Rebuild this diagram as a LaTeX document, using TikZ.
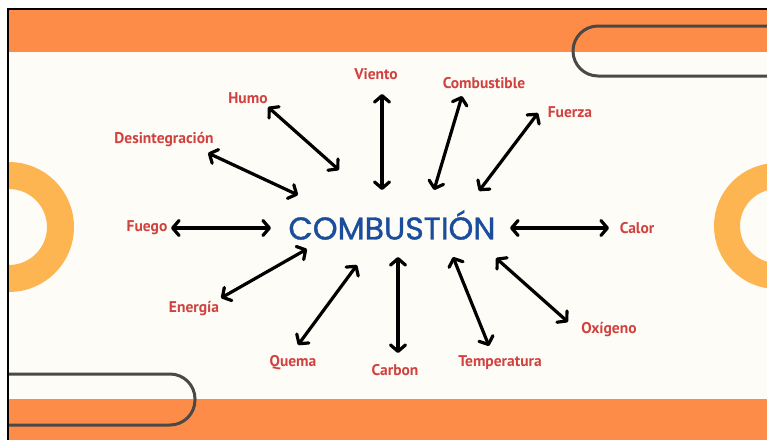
\documentclass[tikz,border=0pt]{standalone}
\usepackage{fontspec}
\setmainfont{PT Sans}
\newfontfamily\titlefont[FakeBold=1.2]{Poppins}
\usepackage{tikz}
\usetikzlibrary{positioning, arrows.meta}
\usepackage{xcolor}
\definecolor{band}{HTML}{FD8C48}
\definecolor{ring}{HTML}{FDB552}
\definecolor{paper}{HTML}{FDFCF6}
\definecolor{outline}{HTML}{4B4947}
\definecolor{termred}{HTML}{D0413F}
\definecolor{titleblue}{HTML}{1A4E9C}

\begin{document}
\begin{tikzpicture}[
  x=1pt, y=-1pt,
  term/.style={font=\bfseries\fontsize{15.5}{17}\selectfont, text=termred, inner sep=1pt},
  hubtext/.style={font=\titlefont\fontsize{31.5}{33}\selectfont, text=titleblue, inner sep=1pt},
  ar/.style={{Straight Barb[length=6.5pt,width=15pt,round]}-{Straight Barb[length=6.5pt,width=15pt,round]},
             line width=3.2pt, black},
  pill/.style={draw=outline, line width=3pt, rounded corners=25pt},
]
  \useasboundingbox (0,0) rectangle (767,440);
  \fill[white] (0,0) rectangle (767,440);
  \begin{scope}
    \clip (8,9) rectangle (767,440);
    \fill[paper] (8,9) rectangle (767,440);
    \fill[band] (8,9) rectangle (767,52);
    \fill[band] (8,399) rectangle (767,440);
    \draw[ring, line width=27pt] (9,227) circle (51.5pt);
    \draw[ring, line width=26pt] (777,226) circle (50pt);
    \draw[pill] (573,26) rectangle (830,76);
    \draw[pill] (-60,374) rectangle (195,425);
  \end{scope}
  \draw[line width=2pt] (8,440) -- (8,9) -- (767,9);

  \node[hubtext] (hub) at (392,225) {COMBUSTIÓN};

  \node[term] (viento) at (376,74) {Viento};
  \node[term] (humo) at (248,98) {Humo};
  \node[term] (combustible) at (484,83) {Combustible};
  \node[term] (fuerza) at (570,112) {Fuerza};
  \node[term] (desint) at (164,140) {Desintegración};
  \node[term] (fuego) at (147,228) {Fuego};
  \node[term] (calor) at (637,228) {Calor};
  \node[term] (energia) at (194,309) {Energía};
  \node[term] (quema) at (293,363) {Quema};
  \node[term] (carbon) at (395,370) {Carbon};
  \node[term] (temp) at (500,363) {Temperatura};
  \node[term] (oxigeno) at (609,330) {Oxígeno};

  \coordinate (viento-o) at (382,94);  \coordinate (viento-i) at (382,190);
  \coordinate (humo-o) at (268,107);   \coordinate (humo-i) at (339,170);
  \coordinate (comb-o) at (462,96);    \coordinate (comb-i) at (434,190);
  \coordinate (fuerza-o) at (538,113); \coordinate (fuerza-i) at (479,191);
  \coordinate (desint-o) at (208,153); \coordinate (desint-i) at (298,195);
  \coordinate (fuego-o) at (171,228);  \coordinate (fuego-i) at (271,228);
  \coordinate (calor-o) at (609,228);  \coordinate (calor-i) at (510,228);
  \coordinate (energia-o) at (221,298); \coordinate (energia-i) at (307,249);
  \coordinate (quema-o) at (298,345);  \coordinate (quema-i) at (357,265);
  \coordinate (carbon-o) at (398,353); \coordinate (carbon-i) at (398,257);
  \coordinate (temp-o) at (489,346);   \coordinate (temp-i) at (453,257);
  \coordinate (oxi-o) at (568,322);    \coordinate (oxi-i) at (496,258);

  \draw[ar] (viento-o) -- (viento-i);
  \draw[ar] (humo-o) -- (humo-i);
  \draw[ar] (comb-o) -- (comb-i);
  \draw[ar] (fuerza-o) -- (fuerza-i);
  \draw[ar] (desint-o) -- (desint-i);
  \draw[ar] (fuego-o) -- (fuego-i);
  \draw[ar] (calor-o) -- (calor-i);
  \draw[ar] (energia-o) -- (energia-i);
  \draw[ar] (quema-o) -- (quema-i);
  \draw[ar] (carbon-o) -- (carbon-i);
  \draw[ar] (temp-o) -- (temp-i);
  \draw[ar] (oxi-o) -- (oxi-i);
\end{tikzpicture}
\end{document}
